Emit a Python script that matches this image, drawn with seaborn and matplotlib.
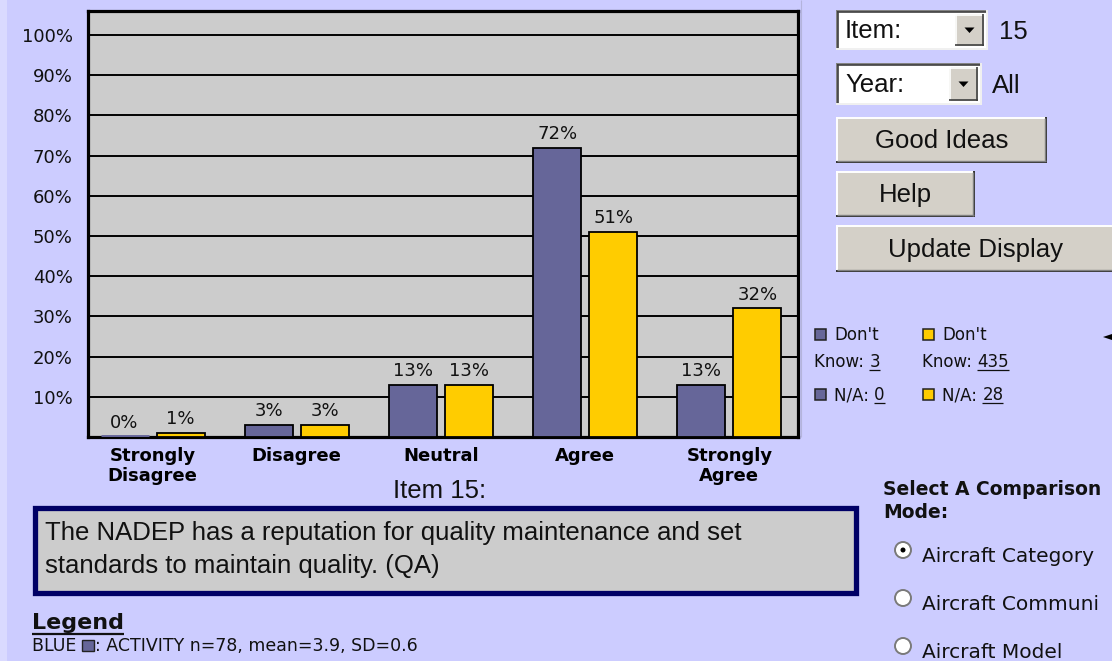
import matplotlib
matplotlib.use("Agg")
import matplotlib.pyplot as plt
import seaborn as sns
import pandas as pd
from matplotlib.patches import Rectangle, Ellipse, Polygon
from matplotlib.lines import Line2D

# ---------------- data ----------------
categories = ["Strongly\nDisagree", "Disagree", "Neutral", "Agree", "Strongly\nAgree"]
activity_pct = [0, 3, 13, 72, 13]
comparison_pct = [1, 3, 13, 51, 32]
y_ticks = [10, 20, 30, 40, 50, 60, 70, 80, 90, 100]
y_tick_labels = [f"{t}%" for t in y_ticks]
series_names = ["ACTIVITY", "COMPARISON"]
item_label = "Item 15:"
item_text = ["The NADEP has a reputation for quality maintenance and set",
             "standards to maintain quality. (QA)"]
activity_dont_know, activity_na = "3", "0"
comparison_dont_know, comparison_na = "435", "28"
legend_line = ["BLUE ", ": ACTIVITY n=78, mean=3.9, SD=0.6"]
modes = ["Aircraft Category", "Aircraft Communi", "Aircraft Model"]

# ---------------- style ----------------
W, H = 1112, 661
BG = "#CCCCFF"
BLUE = "#666699"
YELLOW = "#FFCC00"
PLOT_BG = "#CCCCCC"
BTN = "#D4D0C8"
SANS = ["DejaVu Sans"]
ARIAL = ["Liberation Sans", "DejaVu Sans"]
INK = "#111111"
BIG = 18.5

fig = plt.figure(figsize=(W / 100, H / 100), dpi=100, facecolor=BG)


def fx(x):
    return x / W


def fy(y):
    return 1 - y / H


def rect(x0, y0, x1, y1, **kw):
    r = Rectangle((fx(x0), fy(y1)), (x1 - x0) / W, (y1 - y0) / H,
                  transform=fig.transFigure, **kw)
    fig.patches.append(r)
    return r


def hline(x0, x1, y, **kw):
    fig.add_artist(Line2D([fx(x0), fx(x1)], [fy(y), fy(y)],
                          transform=fig.transFigure, solid_capstyle="butt", **kw))


def vline(x, y0, y1, **kw):
    fig.add_artist(Line2D([fx(x), fx(x)], [fy(y0), fy(y1)],
                          transform=fig.transFigure, solid_capstyle="butt", **kw))


def text(x, y, s, **kw):
    return fig.text(fx(x), fy(y), s, **kw)


# left lighter strip & faint divider
rect(0, 0, 7, H, facecolor="#DADAFF", edgecolor="none")
vline(801, 0, 437, color="#B4B4DC", lw=0.8)

# ---------------- chart ----------------
ax = fig.add_axes([fx(88), fy(437), (798 - 88) / W, (437 - 11) / H])
df = pd.DataFrame({
    "Response": categories * 2,
    "Group": [series_names[0]] * len(categories) + [series_names[1]] * len(categories),
    "Percent": activity_pct + comparison_pct,
})
sns.barplot(data=df, x="Response", y="Percent", hue="Group",
            palette=[BLUE, YELLOW], saturation=1, width=0.778, gap=0.143,
            edgecolor="black", linewidth=1.3, legend=False, ax=ax, zorder=3)

for p in ax.patches:
    if p.get_height() == 0:
        p.set_edgecolor(p.get_facecolor())
        p.set_linewidth(3.5)

for cont, vals in zip(ax.containers, [activity_pct, comparison_pct]):
    ax.bar_label(cont, labels=[f"{v}%" for v in vals], padding=3.5,
                 fontsize=13, family=SANS, color=INK)

ax.set_facecolor(PLOT_BG)
ax.set_ylim(0, 106)
ax.set_xlim(-0.448, 4.476)
ax.set_yticks(y_ticks)
ax.set_yticklabels(y_tick_labels, fontsize=13, family=SANS, color=INK)
ax.yaxis.grid(True, color="black", lw=1.4)
ax.xaxis.grid(False)
ax.set_axisbelow(True)
ax.tick_params(axis="y", length=0, pad=11)
ax.tick_params(axis="x", length=0, pad=7)
for lab in ax.get_xticklabels():
    lab.set_fontweight("bold")
    lab.set_fontsize(13)
    lab.set_family(SANS)
    lab.set_linespacing(1.15)
ax.set_xlabel("")
ax.set_ylabel("")
for s in ax.spines.values():
    s.set_linewidth(2.3)
    s.set_color("black")

# ---------------- item text ----------------
text(393, 498, item_label, fontsize=BIG, family=ARIAL, va="baseline", color=INK)
rect(34.5, 507.5, 855.5, 592.5, facecolor=PLOT_BG, edgecolor="#000066", lw=3.8)
text(45, 540, item_text[0], fontsize=BIG, family=ARIAL, va="baseline", color=INK)
text(45, 573, item_text[1], fontsize=BIG, family=ARIAL, va="baseline", color=INK)

# ---------------- bottom legend ----------------
leg_t = text(32, 629, "Legend", fontsize=16, family=SANS, fontweight="bold",
             va="baseline", color=INK)
t1 = text(32, 651, legend_line[0], fontsize=12.5, family=SANS, va="baseline", color=INK)

# ---------------- right panel ----------------
def button(x0, y0, x1, y1, label, fs=BIG):
    rect(x0, y0, x1, y1, facecolor=BTN, edgecolor="none")
    hline(x0, x1, y0 + 0.5, color="white", lw=1.4)
    vline(x0 + 0.5, y0, y1, color="white", lw=1.4)
    hline(x0, x1, y1 - 0.7, color="#303030", lw=1.4)
    vline(x1 - 0.7, y0, y1, color="#303030", lw=1.4)
    hline(x0 + 1, x1 - 1.5, y1 - 2.2, color="#808080", lw=1.0)
    vline(x1 - 2.2, y0 + 1, y1 - 1.5, color="#808080", lw=1.0)
    text((x0 + x1) / 2, (y0 + y1) / 2 + 1, label, fontsize=fs, family=ARIAL,
         ha="center", va="center", color=INK)


def dropdown(x0, y0, x1, y1, label, value, vx):
    rect(x0, y0, x1, y1, facecolor="white", edgecolor="none")
    hline(x0, x1, y0 + 0.5, color="#808080", lw=1.4)
    vline(x0 + 0.5, y0, y1, color="#808080", lw=1.4)
    hline(x0 + 1, x1 - 1, y0 + 2, color="#404040", lw=1.2)
    vline(x0 + 2, y0 + 1, y1 - 1, color="#404040", lw=1.2)
    hline(x0, x1, y1 - 0.7, color="#F0F0F0", lw=1.4)
    vline(x1 - 0.7, y0, y1, color="#F0F0F0", lw=1.4)
    bx0, bx1, by0, by1 = x1 - 33, x1 - 4, y0 + 4, y1 - 4
    rect(bx0, by0, bx1, by1, facecolor=BTN, edgecolor="none")
    hline(bx0, bx1, by0 + 0.5, color="white", lw=1.2)
    vline(bx0 + 0.5, by0, by1, color="white", lw=1.2)
    hline(bx0, bx1, by1 - 0.6, color="#404040", lw=1.2)
    vline(bx1 - 0.6, by0, by1, color="#404040", lw=1.2)
    cx, cy = (bx0 + bx1) / 2, (by0 + by1) / 2
    fig.patches.append(Polygon([(fx(cx - 5), fy(cy - 2.5)), (fx(cx + 5), fy(cy - 2.5)),
                                (fx(cx), fy(cy + 3))], closed=True,
                               transform=fig.transFigure, facecolor="black", edgecolor="none"))
    text(x0 + 9, (y0 + y1) / 2 + 1, label, fontsize=BIG, family=ARIAL,
         va="center", color=INK)
    text(vx, (y0 + y1) / 2 + 2, value, fontsize=BIG, family=ARIAL,
         va="center", color=INK)


dropdown(836, 10, 988, 50, "Item:", "15", 999)
dropdown(836, 63, 982, 105, "Year:", "All", 992)
button(836, 117, 1047, 163, "Good Ideas")
button(836, 171, 975, 217, "Help")
button(836, 225, 1116, 272, "Update Display")

# small legend (don't know / n/a)
def swatch(x, y, color):
    rect(x, y, x + 11, y + 11, facecolor=color, edgecolor="#222222", lw=1.1)


small = dict(fontsize=12, family=SANS, va="baseline", color=INK)
swatch(815, 329, BLUE)
text(834, 340, "Don't", **small)
text(814, 367, "Know: ", **small)
swatch(815, 389, BLUE)
text(834, 400, "N/A: ", **small)
swatch(923, 329, YELLOW)
text(942, 340, "Don't", **small)
text(922, 367, "Know: ", **small)
swatch(923, 389, YELLOW)
text(942, 400, "N/A: ", **small)

# arrow at right edge
fig.patches.append(Polygon([(fx(1103), fy(337)), (fx(1112), fy(334)), (fx(1112), fy(340))],
                           closed=True, transform=fig.transFigure,
                           facecolor="black", edgecolor="none"))

# comparison mode
text(883, 495, "Select A Comparison", fontsize=13.5, family=SANS, fontweight="bold",
     va="baseline", color=INK)
text(883, 518, "Mode:", fontsize=13.5, family=SANS, fontweight="bold",
     va="baseline", color=INK)
radio_y = [550, 598, 646]
for i, (ry, lab) in enumerate(zip(radio_y, modes)):
    fig.patches.append(Ellipse((fx(903), fy(ry)), 16 / W, 16 / H, transform=fig.transFigure,
                               facecolor="white", edgecolor="#7A7A7A", lw=1.4))
    if i == 0:
        fig.patches.append(Ellipse((fx(903), fy(ry)), 5 / W, 5 / H, transform=fig.transFigure,
                                   facecolor="black", edgecolor="none"))
    text(922, ry + 12, lab, fontsize=14.5, family=SANS, va="baseline", color=INK)

# ---------------- runs needing measurement ----------------
fig.canvas.draw()
ren = fig.canvas.get_renderer()


def underlined(x, y, s, **kw):
    t = text(x, y, s, **kw)
    bb = t.get_window_extent(ren)
    hline(bb.x0, bb.x1, y + 3, color=INK, lw=0.9)
    return t


# legend header underline
bb = leg_t.get_window_extent(ren)
hline(bb.x0, bb.x1, 634, color=INK, lw=1.6)

# BLUE [swatch]: ACTIVITY ...
x = t1.get_window_extent(ren).x1
rect(x, 640, x + 12, 651, facecolor=BLUE, edgecolor="#222222", lw=1.0)
text(x + 13, 651, legend_line[1], fontsize=12.5, family=SANS, va="baseline", color=INK)

# underlined counts
for base_x, val in zip([814, 922], [activity_dont_know, comparison_dont_know]):
    tmp = fig.text(fx(base_x), fy(367), "Know: ", **small)
    xx = tmp.get_window_extent(ren).x1
    tmp.remove()
    underlined(xx, 367, val, **small)
for base_x, val in zip([834, 942], [activity_na, comparison_na]):
    tmp = fig.text(fx(base_x), fy(400), "N/A: ", **small)
    xx = tmp.get_window_extent(ren).x1
    tmp.remove()
    underlined(xx, 400, val, **small)

fig.savefig("out.png", dpi=100, facecolor=BG)
